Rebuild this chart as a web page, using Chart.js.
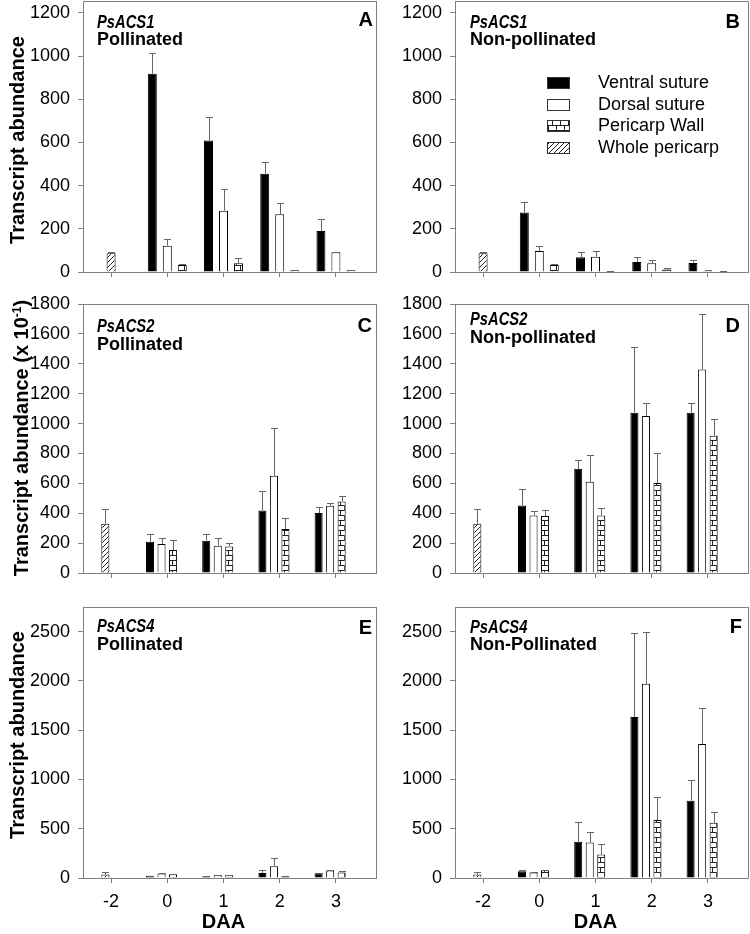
<!DOCTYPE html>
<html>
<head>
<meta charset="utf-8">
<script src="https://cdn.jsdelivr.net/npm/chart.js@4.4.0/dist/chart.umd.min.js"></script>
<style>
  body { margin: 0; width: 750px; height: 934px; background: #fff; position: relative; overflow: hidden;
         font-family: "Liberation Sans", Arial, sans-serif; color: #000; }
  canvas { position: absolute; }
  .t { position: absolute; font-weight: bold; font-size: 18px; line-height: 1; white-space: nowrap; }
  .gene { font-style: italic; display: inline-block; transform: scaleX(0.82); transform-origin: left center; }
  .letter { position: absolute; font-weight: bold; font-size: 20px; line-height: 1; }
  .ytitle { position: absolute; width: 320px; height: 24px; line-height: 24px; text-align: center;
            font-weight: bold; font-size: 20px; transform: rotate(-90deg); white-space: nowrap; }
  .ytitle sup { font-size: 12px; vertical-align: 7px; }
</style>
</head>
<body>
<canvas id="cA" width="380" height="282" style="left:0;top:0"></canvas>
<canvas id="cB" width="378" height="282" style="left:372px;top:0"></canvas>
<canvas id="cC" width="380" height="293" style="left:0;top:290px"></canvas>
<canvas id="cD" width="378" height="293" style="left:372px;top:290px"></canvas>
<canvas id="cE" width="380" height="337" style="left:0;top:597px"></canvas>
<canvas id="cF" width="378" height="337" style="left:372px;top:597px"></canvas>

<div class="ytitle" style="left:-143px;top:128px">Transcript abundance</div>
<div class="ytitle" style="left:-143px;top:426px">Transcript abundance (x 10<sup>-1</sup>)</div>
<div class="ytitle" style="left:-143px;top:723px">Transcript abundance</div>

<div class="t" style="left:97px;top:13px"><span class="gene">PsACS1</span></div>
<div class="t" style="left:97px;top:30px">Pollinated</div>
<div class="letter" style="right:377px;top:9px">A</div>

<div class="t" style="left:470px;top:13px"><span class="gene">PsACS1</span></div>
<div class="t" style="left:470px;top:30px">Non-pollinated</div>
<div class="letter" style="right:10px;top:11px">B</div>

<div class="t" style="left:97px;top:317px"><span class="gene">PsACS2</span></div>
<div class="t" style="left:97px;top:335px">Pollinated</div>
<div class="letter" style="right:378px;top:315px">C</div>

<div class="t" style="left:470px;top:310px"><span class="gene">PsACS2</span></div>
<div class="t" style="left:470px;top:328px">Non-pollinated</div>
<div class="letter" style="right:10px;top:315px">D</div>

<div class="t" style="left:97px;top:617px"><span class="gene">PsACS4</span></div>
<div class="t" style="left:97px;top:635px">Pollinated</div>
<div class="letter" style="right:378px;top:617px">E</div>

<div class="t" style="left:470px;top:618px"><span class="gene">PsACS4</span></div>
<div class="t" style="left:470px;top:635px">Non-Pollinated</div>
<div class="letter" style="right:8px;top:616px">F</div>

<script>
const days = ['-2', '0', '1', '2', '3'];

// y tick labels per gene
const ticksAcs1 = [0, 200, 400, 600, 800, 1000, 1200];
const ticksAcs2 = [0, 200, 400, 600, 800, 1000, 1200, 1400, 1600, 1800];
const ticksAcs4 = [0, 500, 1000, 1500, 2000, 2500];

// whole pericarp sampled only at -2 DAA (shared by both treatments)
const whole1 = [87, null, null, null, null];
const whole1Err = [7, null, null, null, null];
const whole2 = [330, null, null, null, null];
const whole2Err = [100, null, null, null, null];
const whole4 = [35, null, null, null, null];
const whole4Err = [25, null, null, null, null];

// A: PsACS1 pollinated
const aVentral = [null, 918, 609, 455, 190];
const aVentralErr = [null, 95, 107, 54, 57];
const aDorsal = [null, 122, 284, 268, 91];
const aDorsalErr = [null, 30, 102, 51, 2];
const aWall = [null, 32, 40, 8, 8];
const aWallErr = [null, 5, 23, 2, 2];

// B: PsACS1 non-pollinated
const bVentral = [null, 275, 68, 46, 42];
const bVentralErr = [null, 48, 23, 22, 15];
const bDorsal = [null, 97, 71, 40, 5];
const bDorsalErr = [null, 25, 26, 14, 2];
const bWall = [null, 32, 3, 12, 2];
const bWallErr = [null, 6, 1, 5, 1];

// C: PsACS2 pollinated
const cVentral = [null, 209, 216, 419, 401];
const cVentralErr = [null, 52, 45, 127, 38];
const cDorsal = [null, 194, 183, 650, 450];
const cDorsalErr = [null, 40, 51, 323, 16];
const cWall = [null, 154, 178, 294, 479];
const cWallErr = [null, 64, 22, 71, 36];

// D: PsACS2 non-pollinated
const dVentral = [null, 452, 697, 1073, 1073];
const dVentralErr = [null, 112, 56, 440, 67];
const dDorsal = [null, 385, 610, 1051, 1362];
const dDorsalErr = [null, 29, 180, 85, 374];
const dWall = [null, 381, 385, 602, 918];
const dWallErr = [null, 42, 50, 200, 115];

// E: PsACS4 pollinated
const eVentral = [null, 22, 18, 51, 48];
const eVentralErr = [null, 3, 2, 34, 4];
const eDorsal = [null, 45, 28, 119, 75];
const eDorsalErr = [null, 3, 3, 79, 3];
const eWall = [null, 38, 30, 20, 55];
const eWallErr = [null, 4, 4, 5, 12];

// F: PsACS4 non-pollinated
const fVentral = [null, 68, 367, 1634, 785];
const fVentralErr = [null, 17, 204, 856, 210];
const fDorsal = [null, 55, 360, 1970, 1359];
const fDorsalErr = [null, 3, 102, 530, 363];
const fWall = [null, 78, 238, 588, 560];
const fWallErr = [null, 7, 112, 237, 113];

const FONT = '"Liberation Sans", Arial, sans-serif';
const AXIS = '#808080';

function tile(w, h, draw) {
  const c = document.createElement('canvas');
  c.width = w; c.height = h;
  const x = c.getContext('2d');
  x.fillStyle = '#fff';
  x.fillRect(0, 0, w, h);
  x.strokeStyle = '#222';
  x.lineWidth = 1;
  draw(x);
  return x.createPattern(c, 'repeat');
}

const hatch = tile(5, 5, x => {
  x.beginPath();
  x.moveTo(-1, 6); x.lineTo(6, -1);
  x.stroke();
});

const brick = tile(8, 10, x => {
  x.beginPath();
  x.moveTo(0, 0.5); x.lineTo(8, 0.5);
  x.moveTo(0, 5.5); x.lineTo(8, 5.5);
  x.moveTo(4.5, 0); x.lineTo(4.5, 5);
  x.moveTo(0.5, 5); x.lineTo(0.5, 10);
  x.stroke();
});

// box round the plot, a bit wider than the category band on the right
const frame = {
  id: 'frame',
  afterDatasetsDraw(chart, args, opts) {
    const { ctx, chartArea: a } = chart;
    ctx.save();
    ctx.strokeStyle = AXIS;
    ctx.lineWidth = 1;
    ctx.strokeRect(Math.round(a.left) + 0.5, Math.round(a.top) + 0.5,
      Math.round(a.right - a.left + opts.extra), Math.round(a.bottom - a.top));
    ctx.restore();
  }
};

// upper error bars only
const errorBars = {
  id: 'errorBars',
  afterDatasetsDraw(chart) {
    const { ctx } = chart;
    const y = chart.scales.y;
    chart.data.datasets.forEach((ds, i) => {
      if (!ds.errors) return;
      const meta = chart.getDatasetMeta(i);
      meta.data.forEach((bar, j) => {
        const v = ds.data[j], e = ds.errors[j];
        if (v == null || !e) return;
        const x = Math.round(bar.x) + 0.5;
        const top = Math.round(y.getPixelForValue(v + e)) + 0.5;
        ctx.save();
        ctx.strokeStyle = '#666';
        ctx.lineWidth = 1;
        ctx.beginPath();
        ctx.moveTo(x, bar.y);
        ctx.lineTo(x, top);
        ctx.moveTo(x - 3.5, top);
        ctx.lineTo(x + 3.5, top);
        ctx.stroke();
        ctx.restore();
      });
    });
  }
};

const boxLegend = {
  id: 'boxLegend',
  afterDraw(chart, args, opts) {
    if (!opts.show) return;
    const { ctx, chartArea: a } = chart;
    ctx.save();
    ctx.font = '18px ' + FONT;
    ctx.textBaseline = 'middle';
    let row = 0;
    chart.data.datasets.forEach(ds => {
      if (!ds.label) return;
      const bx = Math.round(a.left) + 92, by = Math.round(a.top) + 76 + Math.round(row * 21.7);
      ctx.fillStyle = ds.backgroundColor;
      ctx.fillRect(bx, by, 23, 12);
      ctx.strokeStyle = '#333';
      ctx.lineWidth = 1;
      ctx.strokeRect(bx + 0.5, by + 0.5, 22, 11);
      ctx.fillStyle = '#000';
      ctx.fillText(ds.label, bx + 51, by + 6.5);
      row++;
    });
    ctx.restore();
  }
};

function noPad(s) {
  s.paddingTop = 0; s.paddingBottom = 0; s.paddingLeft = 0; s.paddingRight = 0;
}

function makeChart(id, p) {
  const datasets = [
    { label: 'Ventral suture', data: p.ventral, errors: p.ventralErr, backgroundColor: '#000', stack: 'v' },
    { label: 'Dorsal suture', data: p.dorsal, errors: p.dorsalErr, backgroundColor: '#fff', stack: 'd' },
    { label: 'Pericarp Wall', data: p.wall, errors: p.wallErr, backgroundColor: brick, stack: 'p' },
    { label: 'Whole pericarp', data: p.whole, errors: p.wholeErr, backgroundColor: hatch, stack: 'd' }
  ];
  if (p.fourSlots) {
    datasets.push({ label: '', data: days.map(() => null), backgroundColor: '#fff', stack: 'e' });
  }
  datasets.forEach(d => {
    d.borderColor = '#000';
    d.borderWidth = 1;
    d.categoryPercentage = p.fourSlots ? 0.82 : 0.8;
    d.barPercentage = p.fourSlots ? 0.7 : 0.6;
  });

  const grid = { drawOnChartArea: false, drawTicks: true, tickLength: 5, color: AXIS };

  return new Chart(document.getElementById(id), {
    type: 'bar',
    data: { labels: days, datasets },
    options: {
      responsive: false,
      animation: false,
      events: [],
      layout: { padding: { top: p.padTop, right: p.padRight, left: 0, bottom: 0 } },
      plugins: {
        legend: { display: false },
        tooltip: { enabled: false },
        frame: { extra: 12 },
        boxLegend: { show: !!p.legend }
      },
      scales: {
        x: {
          type: 'category',
          offset: true,
          grid: Object.assign({ offset: false }, grid),
          border: { display: false },
          ticks: { display: p.showX, font: { family: FONT, size: 18 }, color: '#000', padding: 8,
                   maxRotation: 0, autoSkip: false },
          title: { display: p.showX, text: 'DAA', font: { family: FONT, size: 20, weight: 'bold' },
                   color: '#000', padding: { top: 0, bottom: 0 } },
          afterFit(s) { s.height = p.xHeight; noPad(s); }
        },
        y: {
          min: 0,
          max: p.max,
          stacked: false,
          grid,
          border: { display: false },
          ticks: { font: { family: FONT, size: 18 }, color: '#000', padding: 8,
                   callback: v => String(v) },
          afterBuildTicks(s) { s.ticks = p.ticks.map(v => ({ value: v })); },
          afterFit(s) { s.width = 83; noPad(s); }
        }
      }
    },
    plugins: [frame, errorBars, boxLegend]
  });
}

makeChart('cA', { ventral: aVentral, ventralErr: aVentralErr, dorsal: aDorsal, dorsalErr: aDorsalErr,
  wall: aWall, wallErr: aWallErr, whole: whole1, wholeErr: whole1Err, ticks: ticksAcs1,
  max: 1255, padTop: 1, padRight: 16, xHeight: 10, showX: false });
makeChart('cB', { ventral: bVentral, ventralErr: bVentralErr, dorsal: bDorsal, dorsalErr: bDorsalErr,
  wall: bWall, wallErr: bWallErr, whole: whole1, wholeErr: whole1Err, ticks: ticksAcs1, legend: true,
  max: 1255, padTop: 1, padRight: 14, xHeight: 10, showX: false });
makeChart('cC', { ventral: cVentral, ventralErr: cVentralErr, dorsal: cDorsal, dorsalErr: cDorsalErr,
  wall: cWall, wallErr: cWallErr, whole: whole2, wholeErr: whole2Err, ticks: ticksAcs2, fourSlots: true,
  max: 1800, padTop: 14, padRight: 16, xHeight: 10, showX: false });
makeChart('cD', { ventral: dVentral, ventralErr: dVentralErr, dorsal: dDorsal, dorsalErr: dDorsalErr,
  wall: dWall, wallErr: dWallErr, whole: whole2, wholeErr: whole2Err, ticks: ticksAcs2, fourSlots: true,
  max: 1800, padTop: 14, padRight: 14, xHeight: 10, showX: false });
makeChart('cE', { ventral: eVentral, ventralErr: eVentralErr, dorsal: eDorsal, dorsalErr: eDorsalErr,
  wall: eWall, wallErr: eWallErr, whole: whole4, wholeErr: whole4Err, ticks: ticksAcs4, fourSlots: true,
  max: 2750, padTop: 10, padRight: 16, xHeight: 56, showX: true });
makeChart('cF', { ventral: fVentral, ventralErr: fVentralErr, dorsal: fDorsal, dorsalErr: fDorsalErr,
  wall: fWall, wallErr: fWallErr, whole: whole4, wholeErr: whole4Err, ticks: ticksAcs4, fourSlots: true,
  max: 2750, padTop: 10, padRight: 14, xHeight: 56, showX: true });
</script>
</body>
</html>
